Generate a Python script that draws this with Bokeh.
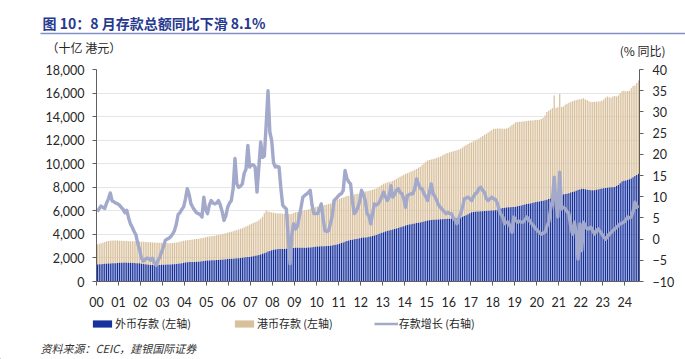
from bokeh.plotting import figure
from bokeh.layouts import column
from bokeh.models import (Range1d, LinearAxis, FixedTicker, NumeralTickFormatter, Label,
                          Legend, LegendItem, ColumnDataSource)
from bokeh.embed import file_html
from bokeh.resources import INLINE

# ---------------- data (monthly, Jan 2000 - Aug 2024) ----------------
year_labels = ["00", "01", "02", "03", "04", "05", "06", "07", "08", "09", "10", "11", "12",
               "13", "14", "15", "16", "17", "18", "19", "20", "21", "22", "23", "24"]

# foreign-currency deposits, HK$ bn (left axis)
fx_dep = [
    1450, 1460, 1470, 1480, 1500, 1510, 1520, 1530, 1540, 1550, 1560, 1570,
    1590, 1600, 1600, 1610, 1600, 1600, 1590, 1580, 1570, 1560, 1550, 1540,
    1500, 1480, 1460, 1440, 1420, 1410, 1400, 1400, 1400, 1400, 1410, 1420,
    1430, 1430, 1440, 1440, 1450, 1460, 1470, 1490, 1510, 1530, 1560, 1600,
    1620, 1640, 1650, 1650, 1660, 1660, 1670, 1680, 1700, 1720, 1740, 1760,
    1780, 1790, 1800, 1800, 1810, 1820, 1830, 1840, 1850, 1870, 1890, 1900,
    1920, 1930, 1940, 1950, 1970, 1980, 2000, 2010, 2030, 2050, 2070, 2090,
    2120, 2150, 2180, 2210, 2250, 2300, 2350, 2400, 2470, 2550, 2600, 2650,
    2700, 2720, 2740, 2760, 2760, 2770, 2770, 2780, 2800, 2820, 2840, 2850,
    2860, 2860, 2860, 2860, 2860, 2860, 2870, 2880, 2890, 2900, 2920, 2950,
    2970, 2980, 2990, 3000, 3000, 3010, 3020, 3040, 3060, 3090, 3120, 3160,
    3200, 3260, 3320, 3380, 3430, 3480, 3520, 3550, 3580, 3610, 3640, 3680,
    3710, 3730, 3740, 3760, 3790, 3820, 3860, 3900, 3950, 4010, 4070, 4130,
    4190, 4240, 4290, 4340, 4380, 4420, 4460, 4500, 4550, 4600, 4650, 4700,
    4750, 4790, 4830, 4870, 4900, 4930, 4960, 4990, 5020, 5060, 5100, 5140,
    5180, 5200, 5220, 5240, 5250, 5260, 5270, 5280, 5290, 5300, 5310, 5320,
    5320, 5330, 5340, 5360, 5380, 5420, 5460, 5500, 5560, 5620, 5700, 5800,
    5880, 5900, 5920, 5940, 5950, 5960, 5970, 5980, 5990, 6000, 6010, 6020,
    6030, 6060, 6100, 6150, 6200, 6240, 6270, 6290, 6300, 6310, 6320, 6330,
    6350, 6380, 6420, 6460, 6500, 6540, 6570, 6600, 6630, 6660, 6700, 6740,
    6780, 6800, 6830, 6860, 6900, 6950, 7000, 7050, 7100, 7150, 7200, 7250,
    7300, 7340, 7380, 7420, 7460, 7500, 7550, 7600, 7650, 7700, 7760, 7820,
    7870, 7850, 7830, 7800, 7770, 7750, 7740, 7750, 7780, 7820, 7860, 7900,
    7920, 7940, 7960, 7980, 8000, 8010, 8030, 8100, 8200, 8350, 8480, 8560,
    8580, 8620, 8680, 8750, 8850, 8950, 9050, 9140,
]

# total deposits (foreign + HK$), HK$ bn -> top of the HK$ bar
total_dep = [
    3140, 3200, 3250, 3300, 3350, 3400, 3440, 3460, 3480, 3490, 3490, 3480,
    3470, 3460, 3450, 3440, 3430, 3420, 3420, 3410, 3410, 3400, 3400, 3400,
    3380, 3370, 3360, 3350, 3340, 3330, 3320, 3310, 3300, 3300, 3290, 3290,
    3280, 3270, 3260, 3250, 3250, 3260, 3280, 3310, 3340, 3380, 3420, 3450,
    3480, 3500, 3520, 3540, 3560, 3580, 3600, 3630, 3660, 3690, 3720, 3760,
    3800, 3830, 3850, 3870, 3890, 3920, 3950, 3980, 4020, 4060, 4100, 4150,
    4190, 4230, 4270, 4320, 4370, 4420, 4470, 4530, 4590, 4660, 4730, 4820,
    4900, 4960, 5030, 5100, 5200, 5320, 5500, 5800, 6030, 5950, 5900, 5850,
    5830, 5800, 5800, 5780, 5770, 5760, 5750, 5740, 5730, 5720, 5760, 5820,
    5880, 5900, 5930, 5960, 6000, 6040, 6080, 6120, 6170, 6220, 6270, 6320,
    6370, 6400, 6430, 6460, 6500, 6540, 6580, 6630, 6700, 6780, 6860, 6940,
    7020, 7080, 7140, 7200, 7250, 7290, 7320, 7350, 7380, 7420, 7460, 7520,
    7580, 7610, 7640, 7660, 7700, 7740, 7780, 7830, 7900, 7980, 8080, 8190,
    8290, 8350, 8400, 8450, 8500, 8560, 8620, 8700, 8800, 8900, 8980, 9060,
    9140, 9200, 9260, 9330, 9400, 9480, 9560, 9650, 9750, 9900, 10050, 10160,
    10270, 10320, 10360, 10400, 10450, 10500, 10560, 10620, 10700, 10780, 10860, 10920,
    10980, 11020, 11060, 11100, 11150, 11200, 11280, 11380, 11480, 11580, 11680, 11760,
    11830, 11900, 11980, 12060, 12150, 12250, 12350, 12450, 12550, 12650, 12750, 12860,
    12960, 12970, 12980, 12990, 12990, 12960, 12960, 12980, 13050, 13150, 13280, 13400,
    13530, 13550, 13560, 13570, 13580, 13600, 13620, 13640, 13660, 13680, 13700, 13710,
    13720, 13740, 13800, 13900, 14100, 14400, 14500, 14600, 14700, 15790, 14750, 14800,
    15930, 14820, 14850, 15000, 15100, 15170, 15250, 15300, 15350, 15400, 15450, 15480,
    15510, 15550, 15450, 15380, 15300, 15250, 15250, 15260, 15270, 15280, 15300, 15350,
    15450, 15600, 15700, 15650, 15600, 15700, 15750, 15700, 15800, 16000, 16150, 16200,
    16160, 16180, 16200, 16400, 16600, 16650, 16850, 17060,
]

# deposit growth, % YoY (right axis)
growth = [
    6.5, 7.2, 7.8, 7.5, 7.2, 8.5, 9.5, 10.9, 9.0, 8.8, 8.5, 8.3,
    8.0, 7.5, 7.0, 6.2, 6.8, 5.0, 3.6, 2.8, 1.8, 1.0, -1.0, -2.5,
    -4.5, -5.2, -4.8, -4.5, -4.6, -5.0, -4.5, -5.5, -6.2, -5.0, -4.3, -3.0,
    -1.8, -0.3, 0.0, 0.2, 0.6, 1.2, 2.0, 3.5, 5.8, 6.2, 7.0, 7.6,
    9.5, 11.9, 10.5, 8.3, 7.5, 6.8, 6.2, 6.0, 5.8, 5.2, 9.9, 7.0,
    6.0, 8.0, 9.1, 8.5, 8.3, 8.5, 9.1, 8.0, 6.5, 4.4, 5.5, 7.5,
    8.5, 9.1, 12.0, 19.0, 13.0, 12.2, 12.5, 13.0, 15.5, 16.5, 22.1, 17.0,
    17.5, 17.5, 17.0, 11.1, 17.0, 22.9, 19.3, 19.6, 27.0, 35.0, 25.2, 23.3,
    18.0, 17.0, 17.2, 17.0, 12.0, 8.0, 7.5, 7.1, 0.4, -5.8, 1.2, 3.6,
    2.4, 3.0, 5.2, 7.5, 9.9, 10.3, 10.6, 11.0, 11.5, 8.0, 6.0, 6.0,
    6.0, 7.0, 8.3, 5.0, 2.0, 1.8, 2.0, 3.6, 5.5, 9.1, 9.5, 10.0,
    10.5, 10.7, 11.5, 16.2, 14.3, 13.5, 13.0, 9.0, 6.0, 6.5, 7.5, 9.0,
    11.5, 10.5, 9.1, 6.0, 5.5, 3.6, 6.0, 8.3, 8.0, 8.3, 9.0, 10.0,
    11.1, 10.0, 9.1, 10.0, 12.6, 9.9, 10.5, 11.5, 11.9, 11.0, 10.7, 9.5,
    7.5, 10.3, 10.5, 10.7, 10.7, 12.0, 14.2, 13.0, 12.0, 11.9, 10.7, 10.0,
    9.1, 11.0, 13.0, 10.7, 10.0, 9.1, 8.0, 7.5, 7.0, 6.5, 6.0, 6.3,
    6.0, 6.0, 5.0, 4.5, 3.6, 5.0, 6.0, 7.5, 9.5, 9.7, 9.9, 9.5,
    9.1, 10.0, 10.7, 11.0, 12.0, 12.2, 11.5, 11.0, 9.5, 9.1, 9.5, 9.9,
    9.5, 9.3, 8.5, 6.7, 5.8, 5.2, 3.6, 4.0, 4.0, 3.0, 1.6, 5.2,
    4.5, 4.0, 4.2, 4.0, 4.0, 4.5, 5.2, 4.8, 4.0, 3.5, 3.0, 2.4,
    2.0, 1.5, 1.2, 1.4, 1.6, 3.0, 4.0, 7.0, 9.1, 14.6, 8.3, 5.2,
    15.8, 7.1, 7.5, 7.2, 6.5, 6.0, 3.0, 1.2, 4.0, 1.5, -4.7, 3.6,
    -2.7, 4.0, 3.0, 2.4, 2.5, 2.8, 2.0, 1.2, 2.0, 2.4, 1.8, 1.2,
    0.5, 0.0, 0.5, 1.2, 1.5, 2.0, 2.4, 2.8, 3.2, 3.6, 3.8, 4.0,
    4.5, 5.2, 5.0, 5.2, 6.5, 8.7, 7.5, 7.9,
]

left_ticks = [0, 2000, 4000, 6000, 8000, 10000, 12000, 14000, 16000, 18000]
right_ticks = [-10, -5, 0, 5, 10, 15, 20, 25, 30, 35, 40]

# ---------------- styling ----------------
BLUE = "#16309C"
TAN = "#D9C09C"
LINE = "#A2A9CB"
AXIS = "#5F5F5F"
TXT = "#262626"
TITLE_BLUE = "#26398F"
CJK = "Noto Sans CJK SC"
NUM = "Lato"
W = 685
TOP_H = 58
MAIN_H = 254
BOT_H = 47


def blank_fig(h):
    f = figure(width=W, height=h, output_backend="svg", toolbar_location=None,
               x_range=Range1d(0, W), y_range=Range1d(0, h),
               x_axis_location=None, y_axis_location=None,
               min_border=0, min_border_left=0, min_border_right=0,
               min_border_top=0, min_border_bottom=0, frame_align=False)
    f.outline_line_color = None
    f.xgrid.visible = False
    f.ygrid.visible = False
    f.border_fill_color = "white"
    f.background_fill_color = "white"
    return f


# ---------------- header ----------------
top = blank_fig(TOP_H)
top.segment(x0=[40], y0=[25], x1=[W], y1=[25], line_color="#8390C8", line_width=1.5)
top.add_layout(Label(x=42, y=36, x_units="screen", y_units="screen",
                     text="图 10：8 月存款总额同比下滑 8.1%", text_font=CJK,
                     text_font_style="bold", text_font_size="14px",
                     text_color=TITLE_BLUE, text_baseline="middle"))
top.add_layout(Label(x=46, y=11, x_units="screen", y_units="screen",
                     text="（十亿 港元）", text_font=CJK, text_font_size="12px",
                     text_color=TXT, text_baseline="middle"))
top.add_layout(Label(x=665, y=8, x_units="screen", y_units="screen",
                     text="(% 同比)", text_font=CJK, text_font_size="12px",
                     text_color=TXT, text_baseline="middle", text_align="right"))

# ---------------- main chart ----------------
n = len(fx_dep)
xs = [i + 0.5 for i in range(n)]
src = ColumnDataSource(dict(x=xs, fx=fx_dep, total=total_dep, g=growth))

p = figure(width=W, height=MAIN_H, output_backend="svg", toolbar_location=None,
           x_range=Range1d(0, n), y_range=Range1d(0, 18000), frame_align=False,
           min_border_left=96, min_border_right=46, min_border_top=11, min_border_bottom=31)
p.outline_line_color = None
p.background_fill_color = "white"
p.border_fill_color = "white"
p.extra_y_ranges = {"pct": Range1d(-10, 40)}

p.vbar(x="x", bottom="fx", top="total", width=0.68, source=src,
       fill_color=TAN, line_color=None)
p.vbar(x="x", bottom=0, top="fx", width=0.68, source=src,
       fill_color=BLUE, line_color=None)
p.line(x="x", y="g", source=src, y_range_name="pct",
       line_color=LINE, line_width=3.4, line_join="round")

p.xgrid.visible = False
p.ygrid.ticker = FixedTicker(ticks=left_ticks)
p.ygrid.grid_line_color = "#E6E6E6"
p.ygrid.grid_line_width = 1


def style_axis(ax):
    ax.axis_line_color = AXIS
    ax.major_tick_line_color = AXIS
    ax.minor_tick_line_color = None
    ax.major_tick_in = 0
    ax.major_tick_out = 4
    ax.major_label_text_font = NUM
    ax.major_label_text_font_size = "12.5px"
    ax.major_label_text_color = TXT


ly = p.yaxis[0]
ly.ticker = FixedTicker(ticks=left_ticks)
ly.formatter = NumeralTickFormatter(format="0,0")
style_axis(ly)
ly.major_label_standoff = 8

bx = p.xaxis[0]
bx.ticker = FixedTicker(ticks=[12 * i for i in range(len(year_labels))])
bx.major_label_overrides = {12 * i: lab for i, lab in enumerate(year_labels)}
style_axis(bx)
bx.major_label_standoff = 11

ry = LinearAxis(y_range_name="pct", ticker=FixedTicker(ticks=right_ticks))
style_axis(ry)
ry.major_label_standoff = 9
p.add_layout(ry, "right")

# ---------------- footer: legend + source ----------------
bot = blank_fig(BOT_H)
# legend proxies: one point each, placed off-canvas so only the legend swatch shows
proxy = ColumnDataSource(dict(x=[-500, -490], top=[1, 1], y=[1, 1]))
k_fx = bot.vbar(x="x", top="top", width=1, source=proxy, fill_color=BLUE, line_color=None)
k_hkd = bot.vbar(x="x", top="top", width=1, source=proxy, fill_color=TAN, line_color=None)
k_line = bot.line(x="x", y="y", source=proxy, line_color=LINE, line_width=2.5)
legend = Legend(items=[LegendItem(label="外币存款 (左轴)", renderers=[k_fx]),
                       LegendItem(label="港币存款 (左轴)", renderers=[k_hkd]),
                       LegendItem(label="存款增长 (右轴)", renderers=[k_line])],
                location=(90, 28), orientation="horizontal",
                glyph_width=24, glyph_height=9, label_height=12, label_standoff=1,
                spacing=41, padding=0, margin=0,
                label_text_font=CJK, label_text_font_size="11px", label_text_color=TXT,
                border_line_color=None, background_fill_alpha=0)
bot.add_layout(legend)
bot.add_layout(Label(x=40, y=12, x_units="screen", y_units="screen",
                     text="资料来源：CEIC，建银国际证券", text_font=CJK,
                     text_font_style="italic", text_font_size="11px",
                     text_color="#333333", text_baseline="middle"))

layout = column(top, p, bot, spacing=0)
open("out.html", "w").write(file_html(layout, INLINE))
